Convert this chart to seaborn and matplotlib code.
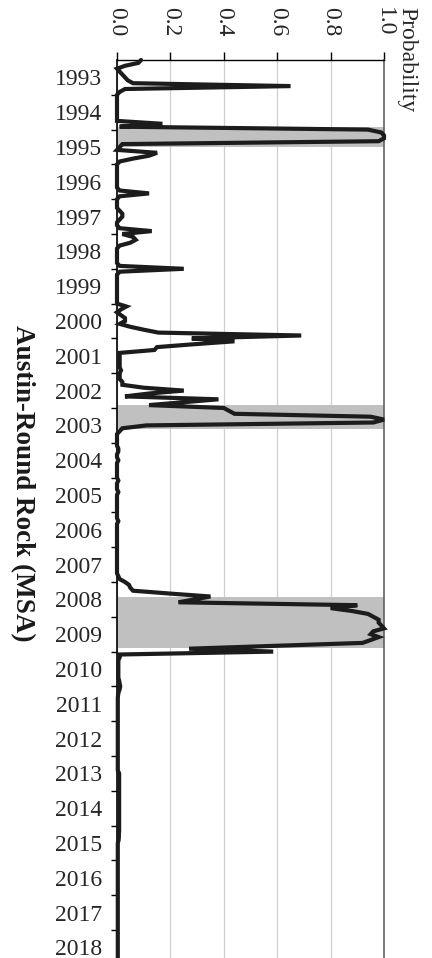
import numpy as np
import pandas as pd
import matplotlib
matplotlib.use("Agg")
import matplotlib.pyplot as plt
import seaborn as sns

# Monthly regime probability, January..December of each year
p1993 = [0.09, 0.08, 0.03, 0.00, 0.01, 0.02, 0.03, 0.04, 0.06, 0.65, 0.03, 0.01]
p1994 = [0.00, 0.00, 0.00, 0.00, 0.00, 0.00, 0.00, 0.00, 0.00, 0.00, 0.17, 0.01]
p1995 = [0.94, 0.99, 1.00, 1.00, 0.98, 0.02, 0.01, 0.00, 0.15, 0.12, 0.06, 0.01]
p1996 = [0.00, 0.00, 0.00, 0.00, 0.00, 0.00, 0.00, 0.00, 0.00, 0.01, 0.12, 0.01]
p1997 = [0.00, 0.00, 0.00, 0.00, 0.01, 0.02, 0.02, 0.01, 0.00, 0.00, 0.01, 0.13]
p1998 = [0.02, 0.06, 0.07, 0.05, 0.01, 0.00, 0.00, 0.00, 0.00, 0.00, 0.00, 0.01]
p1999 = [0.25, 0.01, 0.00, 0.00, 0.00, 0.00, 0.00, 0.00, 0.00, 0.00, 0.00, 0.00]
p2000 = [0.00, 0.035, 0.015, 0.00, 0.015, 0.03, 0.03, 0.01, 0.05, 0.10, 0.155, 0.69]
p2001 = [0.28, 0.44, 0.29, 0.15, 0.14, 0.01, 0.01, 0.01, 0.01, 0.01, 0.01, 0.015]
p2002 = [0.01, 0.01, 0.01, 0.02, 0.02, 0.10, 0.25, 0.12, 0.03, 0.38, 0.25, 0.12]
p2003 = [0.40, 0.42, 0.44, 0.95, 1.00, 0.96, 0.11, 0.02, 0.01, 0.00, 0.00, 0.00]
p2004 = [0.00, 0.00, 0.005, 0.005, 0.00, 0.00, 0.005, 0.00, 0.00, 0.00, 0.00, 0.00]
p2005 = [0.00, 0.005, 0.00, 0.00, 0.00, 0.005, 0.00, 0.00, 0.00, 0.00, 0.00, 0.00]
p2006 = [0.00, 0.00, 0.00, 0.005, 0.00, 0.00, 0.00, 0.00, 0.00, 0.00, 0.00, 0.00]
p2007 = [0.00, 0.00, 0.00, 0.00, 0.00, 0.00, 0.00, 0.00, 0.00, 0.00, 0.005, 0.01]
p2008 = [0.03, 0.045, 0.05, 0.06, 0.20, 0.35, 0.29, 0.23, 0.90, 0.80, 0.88, 0.94]
p2009 = [0.96, 0.98, 0.98, 0.99, 1.00, 0.96, 0.95, 0.98, 0.95, 0.92, 0.60, 0.27]
p2010 = [0.585, 0.01, 0.01, 0.005, 0.005, 0.005, 0.005, 0.005, 0.005, 0.005, 0.008, 0.01]
p2011 = [0.012, 0.01, 0.006, 0.004, 0.003, 0.003, 0.003, 0.003, 0.003, 0.003, 0.003, 0.003]
p2012 = [0.003, 0.003, 0.003, 0.003, 0.003, 0.003, 0.003, 0.003, 0.003, 0.003, 0.003, 0.003]
p2013 = [0.003, 0.003, 0.003, 0.003, 0.003, 0.003, 0.008, 0.008, 0.008, 0.008, 0.008, 0.008]
p2014 = [0.008, 0.008, 0.008, 0.008, 0.008, 0.008, 0.008, 0.008, 0.008, 0.008, 0.008, 0.008]
p2015 = [0.008, 0.008, 0.008, 0.007, 0.007, 0.006, 0.003, 0.003, 0.003, 0.003, 0.003, 0.003]
p2016 = [0.003, 0.003, 0.003, 0.003, 0.003, 0.003, 0.003, 0.003, 0.003, 0.003, 0.003, 0.003]
p2017 = [0.003, 0.003, 0.003, 0.003, 0.003, 0.003, 0.003, 0.003, 0.003, 0.003, 0.003, 0.003]
p2018 = [0.003, 0.003, 0.003, 0.003, 0.003, 0.003, 0.003, 0.003, 0.003, 0.003, 0.003, 0.003]

years = list(range(1993, 2019))
prob_ticks = [0.0, 0.2, 0.4, 0.6, 0.8, 1.0]
prob_labels = ["0.0", "0.2", "0.4", "0.6", "0.8", "1.0"]

# Shaded recession periods (decimal years)
shade_start = [1994.92, 2002.92, 2008.42]
shade_end = [1995.49, 2003.59, 2009.89]

title = "Austin-Round Rock (MSA)"
axis_label = "Probability"

monthly = [p1993, p1994, p1995, p1996, p1997, p1998, p1999, p2000, p2001,
           p2002, p2003, p2004, p2005, p2006, p2007, p2008, p2009, p2010,
           p2011, p2012, p2013, p2014, p2015, p2016, p2017, p2018]
values = np.concatenate([np.asarray(v, dtype=float) for v in monthly])
dates = years[0] + np.arange(len(values)) / 12.0
df = pd.DataFrame({"date": dates, "prob": values})

sns.set_theme(style="white")
plt.rcParams["font.family"] = ["Liberation Serif", "DejaVu Serif"]

W, H = 432, 958
fig = plt.figure(figsize=(W / 100, H / 100), dpi=100)
top_px, left_px, right_px = 60, 117, 384
year_px = 34.8
ax = fig.add_axes([left_px / W, 0.0, (right_px - left_px) / W, (H - top_px) / H])

for s, e in zip(shade_start, shade_end):
    ax.axhspan(s, e, color="#c0c0c0", lw=0, zorder=1)

sns.lineplot(data=df, x="prob", y="date", orient="y", estimator=None,
             color="#1c1c1c", linewidth=3.0, ax=ax, zorder=3,
             solid_joinstyle="miter", clip_on=False)

ax.set_xlim(0, 1.0)
ax.set_ylim(years[0] + (H - top_px) / year_px, years[0])
ax.set_xlabel("")
ax.set_ylabel("")

# probability axis along the top
ax.set_xticks(prob_ticks)
ax.set_xticklabels(prob_labels)
ax.xaxis.tick_top()
ax.tick_params(axis="x", which="major", top=True, bottom=False,
               labeltop=True, labelbottom=False, direction="out",
               length=6, width=1, color="black", pad=11,
               labelsize=17, labelcolor="#262626", labelrotation=-90)
ax.set_axisbelow(True)
ax.grid(axis="x", color="#cfcfcf", linewidth=0.9)
ax.grid(axis="y", visible=False)

# year axis: ticks on boundaries, labels centered within each year
ax.set_yticks(years[1:])
ax.set_yticklabels([])
ax.set_yticks([y + 0.5 for y in years], minor=True)
ax.set_yticklabels([str(y) for y in years], minor=True)
ax.tick_params(axis="y", which="major", left=True, direction="out",
               length=4.5, width=1, color="black")
ax.tick_params(axis="y", which="minor", left=True, length=0, pad=10.5,
               labelsize=17, labelcolor="#262626")

ax.spines["bottom"].set_visible(False)
ax.spines["top"].set_color("black")
ax.spines["top"].set_linewidth(1.0)
ax.spines["left"].set_color("black")
ax.spines["left"].set_linewidth(1.2)
ax.spines["right"].set_color("#555555")
ax.spines["right"].set_linewidth(1.1)

fig.text(407 / W, 1 - 60 / H, axis_label, rotation=270, ha="center",
         va="center", fontsize=17, color="#262626")
fig.text(22 / W, 1 - 483 / H, title, rotation=270, ha="center", va="center",
         fontsize=19.5, fontweight="bold", color="#1a1a1a")

fig.savefig("out.png", dpi=100)
